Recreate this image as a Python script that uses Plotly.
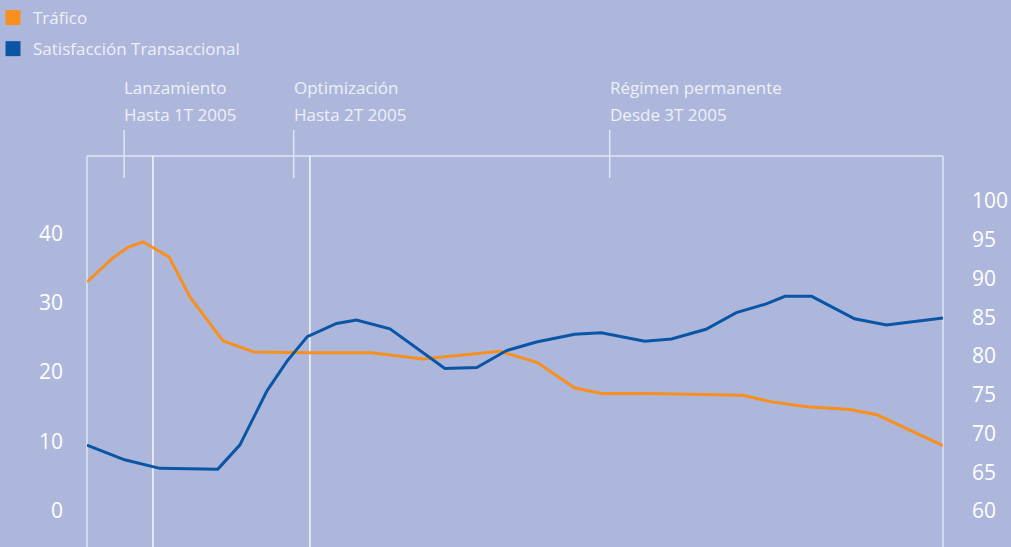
import plotly.graph_objects as go

# Month index since Jan 2005 (3 = end of 1T 2005, 6 = end of 2T 2005)
trafico_x = [1.74, 2.24, 2.52, 2.81, 3.31, 3.71, 4.34, 4.93, 6.0, 7.18, 8.16, 9.63,
             10.34, 11.06, 11.58, 12.46, 14.27, 14.83, 15.50, 16.32, 16.85, 18.10]
trafico_y = [33.0, 36.5, 38.0, 38.8, 36.6, 30.8, 24.5, 22.9, 22.8, 22.8, 21.9, 23.0,
             21.4, 17.7, 16.9, 16.9, 16.65, 15.7, 15.0, 14.6, 13.8, 9.4]

satisf_x = [1.74, 2.46, 3.13, 4.24, 4.66, 5.18, 5.56, 5.95, 6.51, 6.89, 7.53, 8.58, 9.19,
            9.76, 10.33, 11.06, 11.57, 12.40, 12.91, 13.57, 14.15, 14.71, 15.08, 15.59,
            16.41, 17.02, 18.10]
satisf_y = [68.5, 66.6, 65.5, 65.4, 68.5, 75.5, 79.3, 82.5, 84.2, 84.65, 83.5, 78.4, 78.5,
            80.7, 81.8, 82.8, 83.0, 81.9, 82.2, 83.45, 85.6, 86.7, 87.7, 87.7,
            84.8, 84.0, 84.9]

left_ticks = [0, 10, 20, 30, 40]
right_ticks = [60, 65, 70, 75, 80, 85, 90, 95, 100]

phase_bounds = [3, 6]
phase_marks = [2.45, 5.69, 11.73]
phase_line1 = ["Lanzamiento", "Optimización", "Régimen permanente"]
phase_line2 = ["Hasta 1T 2005", "Hasta 2T 2005", "Desde 3T 2005"]

series_names = ["Tráfico", "Satisfacción Transaccional"]
ORANGE = "#f7901e"
BLUE = "#0a55a5"
BG = "#adb7dc"
TXT = "#eef0f8"
FONT = "Open Sans"

fig = go.Figure()
fig.add_trace(go.Scatter(x=trafico_x, y=trafico_y, mode="lines",
                         line=dict(color=ORANGE, width=3), showlegend=False, yaxis="y"))
fig.add_trace(go.Scatter(x=satisf_x, y=satisf_y, mode="lines",
                         line=dict(color=BLUE, width=3), showlegend=False, yaxis="y2"))
for i, (name, col) in enumerate(zip(series_names, [ORANGE, BLUE])):
    fig.add_trace(go.Scatter(x=[None], y=[None], mode="markers", name=name,
                             legendgroup=f"g{i}",
                             marker=dict(symbol="square", size=15, color=col)))

shapes = []
frame_col = "#e2e6f3"
shapes.append(dict(type="line", xref="paper", yref="paper", x0=0, x1=1, y0=1, y1=1,
                   line=dict(color=frame_col, width=1.5), layer="below"))
for xp in [0, 1]:
    shapes.append(dict(type="line", xref="paper", yref="paper", x0=xp, x1=xp, y0=0, y1=1,
                       line=dict(color=frame_col, width=1.5), layer="below"))
for xb in phase_bounds:
    shapes.append(dict(type="line", xref="x", yref="paper", x0=xb, x1=xb, y0=0, y1=1,
                       line=dict(color="#f5f6fb", width=1.5), layer="below"))
for xm in phase_marks:
    shapes.append(dict(type="line", xref="x", yref="paper", x0=xm, x1=xm, y0=0.9437, y1=1.0665,
                       line=dict(color=frame_col, width=1.5), layer="below"))

annotations = []
for xm, l1, l2 in zip(phase_marks, phase_line1, phase_line2):
    annotations.append(dict(x=xm, y=1.1745, xref="x", yref="paper", text=l1, showarrow=False,
                            xanchor="left", yanchor="middle", xshift=-2,
                            font=dict(family=FONT, size=17, color=TXT)))
    annotations.append(dict(x=xm, y=1.1065, xref="x", yref="paper", text=l2, showarrow=False,
                            xanchor="left", yanchor="middle", xshift=-2,
                            font=dict(family=FONT, size=17, color=TXT)))

fig.update_layout(
    width=1011, height=547,
    margin=dict(l=87, r=68, t=156, b=0, autoexpand=False),
    paper_bgcolor=BG, plot_bgcolor=BG,
    font=dict(family=FONT, color="white"),
    xaxis=dict(range=[1.74, 18.10], visible=False, showgrid=False, zeroline=False),
    yaxis=dict(range=[-5.24, 51.18], tickvals=left_ticks, showgrid=False, zeroline=False,
               showline=False, ticks="", ticklabelstandoff=23, automargin=False,
               tickfont=dict(family=FONT, size=21, color="white")),
    yaxis2=dict(range=[55.35, 105.81], tickvals=right_ticks, overlaying="y", side="right",
                showgrid=False, zeroline=False, showline=False, ticks="", ticklabelstandoff=28,
                automargin=False,
                tickfont=dict(family=FONT, size=21, color="white")),
    legend=dict(xref="paper", yref="container", x=-0.1098, y=1, xanchor="left", yanchor="top",
                bgcolor="rgba(0,0,0,0)", font=dict(family=FONT, size=17, color=TXT),
                tracegroupgap=6, itemsizing="trace"),
    shapes=shapes, annotations=annotations,
)

fig.write_html("out.html")
